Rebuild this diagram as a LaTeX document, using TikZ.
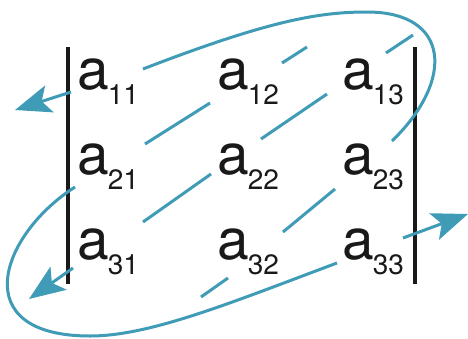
\documentclass[tikz,border=0pt]{standalone}
\usepackage{fontspec}
\setmainfont{TeX Gyre Heros}
\usetikzlibrary{arrows.meta}
\definecolor{lineblue}{RGB}{64,155,182}
\newcommand\ent[1]{a\kern-1pt\raisebox{-15pt}{\fontsize{28}{28}\selectfont #1}}

\begin{document}
\begin{tikzpicture}[x=1pt, y=-1pt,
    entry/.style={anchor=base west, inner sep=0pt, text=black!90, font=\fontsize{57}{57}\selectfont},
    bar/.style={line width=3.2pt, black!90},
    diag/.style={line width=3pt, lineblue},
    arr/.style={diag, -{Stealth[length=36pt, width=28pt, inset=8pt]}}]
  \useasboundingbox (0,0) rectangle (468,338);
  % entries
  \foreach \row/\y in {1/89,2/174,3/259}
    \foreach \col/\x in {1/77,2/217,3/342}
      \node[entry] (e\row\col) at (\x,\y) {\ent{\row\col}};
  % bars
  \coordinate (lt) at (68,47); \coordinate (lb) at (68,284);
  \coordinate (rt) at (415,47); \coordinate (rb) at (415,284);
  \draw[bar] (lt) -- (lb);
  \draw[bar] (rt) -- (rb);
  % short diagonals
  \foreach \n/\xa/\ya/\xb/\yb in {1/145/144/210/103, 2/282/63/307/47, 3/143/222/211/174, 4/261/139/327/94,
                                  5/386/53/413/35, 6/283/232/335/189, 7/201/297/228/278} {
    \coordinate (d\n-a) at (\xa,\ya);
    \coordinate (d\n-b) at (\xb,\yb);
    \draw[diag] (d\n-a) -- (d\n-b);
  }
  % loops
  \coordinate (a1) at (392,141); \coordinate (a2) at (367,12); \coordinate (a3) at (143,69);
  \draw[diag] (a1) .. controls (455,80) and (450,12) .. (a2) .. controls (320,12) and (270,20) .. (a3);
  \coordinate (b1) at (337,263); \coordinate (b2) at (90,336); \coordinate (b3) at (75,187);
  \draw[diag] (b1) .. controls (230,303) and (150,336) .. (b2) .. controls (-35,336) and (0,235) .. (b3);
  % arrows
  \coordinate (s1) at (71,92);   \coordinate (t1) at (15,110);
  \coordinate (s2) at (73,268);  \coordinate (t2) at (29,299);
  \coordinate (s3) at (403,238); \coordinate (t3) at (468,214);
  \draw[arr] (s1) -- (t1);
  \draw[arr] (s2) -- (t2);
  \draw[arr] (s3) -- (t3);
\end{tikzpicture}
\end{document}
